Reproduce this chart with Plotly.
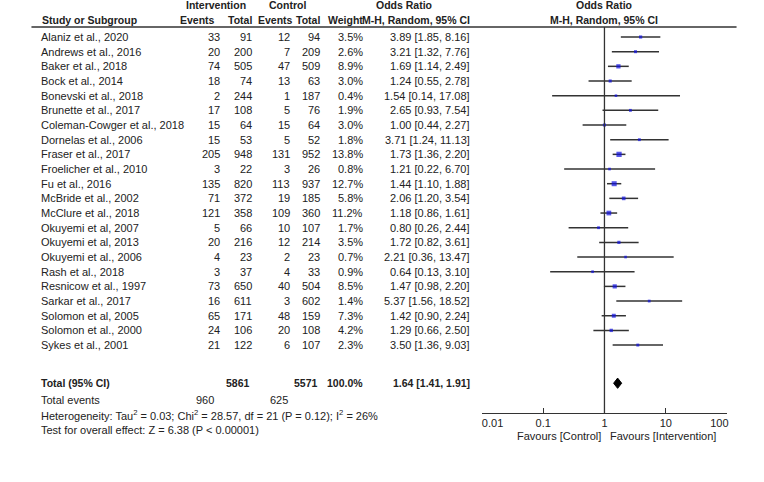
import plotly.graph_objects as go

# study data
studies = ["Alaniz et al., 2020", "Andrews et al., 2016", "Baker et al., 2018", "Bock et al., 2014",
           "Bonevski et al., 2018", "Brunette et al., 2017", "Coleman-Cowger et al., 2018",
           "Dornelas et al., 2006", "Fraser et al., 2017", "Froelicher et al., 2010", "Fu et al., 2016",
           "McBride et al., 2002", "McClure et al., 2018", "Okuyemi et al, 2007", "Okuyemi et al, 2013",
           "Okuyemi et al., 2006", "Rash et al., 2018", "Resnicow et al., 1997", "Sarkar et al., 2017",
           "Solomon et al, 2005", "Solomon et al., 2000", "Sykes et al., 2001"]
int_events = [33, 20, 74, 18, 2, 17, 15, 15, 205, 3, 135, 71, 121, 5, 20, 4, 3, 73, 16, 65, 24, 21]
int_total = [91, 200, 505, 74, 244, 108, 64, 53, 948, 22, 820, 372, 358, 66, 216, 23, 37, 650, 611, 171, 106, 122]
ctl_events = [12, 7, 47, 13, 1, 5, 15, 5, 131, 3, 113, 19, 109, 10, 12, 2, 4, 40, 3, 48, 20, 6]
ctl_total = [94, 209, 509, 63, 187, 76, 64, 52, 952, 26, 937, 185, 360, 107, 214, 23, 33, 504, 602, 159, 108, 107]
weights = [3.5, 2.6, 8.9, 3.0, 0.4, 1.9, 3.0, 1.8, 13.8, 0.8, 12.7, 5.8, 11.2, 1.7, 3.5, 0.7, 0.9, 8.5, 1.4, 7.3, 4.2, 2.3]
odds = [3.89, 3.21, 1.69, 1.24, 1.54, 2.65, 1.00, 3.71, 1.73, 1.21, 1.44, 2.06, 1.18, 0.80, 1.72, 2.21, 0.64, 1.47, 5.37, 1.42, 1.29, 3.50]
ci_low = [1.85, 1.32, 1.14, 0.55, 0.14, 0.93, 0.44, 1.24, 1.36, 0.22, 1.10, 1.20, 0.86, 0.26, 0.82, 0.36, 0.13, 0.98, 1.56, 0.90, 0.66, 1.36]
ci_high = [8.16, 7.76, 2.49, 2.78, 17.08, 7.54, 2.27, 11.13, 2.20, 6.70, 1.88, 3.54, 1.61, 2.44, 3.61, 13.47, 3.10, 2.20, 18.52, 2.24, 2.50, 9.03]

# pooled
total_int, total_ctl = 5861, 5571
events_int, events_ctl = 960, 625
total_weight = 100.0
pooled_or, pooled_lo, pooled_hi = 1.64, 1.41, 1.91
tick_vals = [0.01, 0.1, 1, 10, 100]
tick_text = ["0.01", "0.1", "1", "10", "100"]

W, H = 764, 482
ROW = 14.67
FONT = "Liberation Sans, Arial, sans-serif"
TXT = "#222222"
NB = "\u00a0"
rows = list(range(len(studies)))
total_y = 23.6


def px(x):
    return x / W


fig = go.Figure()

# confidence interval lines
lx, ly = [], []
for i in rows:
    lx += [ci_low[i], ci_high[i], None]
    ly += [i, i, None]
fig.add_trace(go.Scatter(x=lx, y=ly, mode="lines", line=dict(color="#333333", width=1.5),
                         hoverinfo="skip", cliponaxis=False))

# study squares
fig.add_trace(go.Scatter(x=odds, y=rows, mode="markers",
                         marker=dict(symbol="square", color="#1010e0",
                                     size=[2.5 + 0.2 * w for w in weights], line=dict(width=0)),
                         cliponaxis=False))

# pooled diamond
dh = 0.35
fig.add_trace(go.Scatter(x=[pooled_lo, pooled_or, pooled_hi, pooled_or, pooled_lo],
                         y=[total_y, total_y - dh, total_y, total_y + dh, total_y],
                         mode="lines", fill="toself", fillcolor="black",
                         line=dict(color="black", width=1), cliponaxis=False))

ann = []


def txt(x, y, s, anchor="right", bold=False, size=11):
    if bold:
        s = "<b>" + s + "</b>"
        size = 10.5
    ann.append(dict(x=px(x), y=y, xref="paper", yref="y", text=s, showarrow=False,
                    xanchor=anchor, yanchor="middle", font=dict(size=size, color=TXT, family=FONT)))


# header
h1, h2 = -2.18, -1.16
txt(205, h1, "Intervention", "center", True)
txt(280, h1, "Control", "center", True)
txt(403, h1, "Odds Ratio", "center", True)
txt(613, h1, "Odds Ratio", "center", True)
txt(20, h2, "Study or Subgroup", "left", True)
txt(206, h2, "Events", bold=True)
txt(245, h2, "Total", bold=True)
txt(288, h2, "Events", bold=True)
txt(317, h2, "Total", bold=True)
txt(362, h2, "Weight", bold=True)
txt(475, h2, "M-H, Random, 95% CI", bold=True)
txt(613, h2, "M-H, Random, 95% CI", "center", True)

for i in rows:
    txt(19, i, studies[i], "left")
    txt(212, i, str(int_events[i]))
    txt(245, i, str(int_total[i]))
    txt(285, i, str(ctl_events[i]))
    txt(317, i, str(ctl_total[i]))
    txt(362, i, f"{weights[i]:.1f}%")
    txt(475, i, f"{odds[i]:.2f} [{ci_low[i]:.2f}, {ci_high[i]:.2f}]")

txt(19, total_y, "Total (95% CI)", "left", True)
txt(243, total_y, str(total_int), bold=True)
txt(315, total_y, str(total_ctl), bold=True)
txt(362, total_y, f"{total_weight:.1f}%", bold=True)
txt(475, total_y, f"{pooled_or:.2f} [{pooled_lo:.2f}, {pooled_hi:.2f}]", bold=True)
txt(19, 24.75, "Total events", "left")
txt(205, 24.75, str(events_int))
txt(283, 24.75, str(events_ctl))
txt(19, 25.77, "Heterogeneity: Tau<sup>2</sup> = 0.03; Chi<sup>2</sup> = 28.57, df = 21 (P = 0.12); I<sup>2</sup> = 26%", "left")
txt(19, 26.8, "Test for overall effect: Z = 6.38 (P < 0.00001)", "left")
txt(612, 27.2, "Favours [Control]")
txt(618, 27.2, "Favours [Intervention]", "left")
fig.update_layout(annotations=ann)

# header rule and null line
fig.add_shape(type="line", xref="paper", yref="y", x0=px(11), x1=px(753), y0=-0.68, y1=-0.68,
              line=dict(color="#333333", width=1.3))
fig.add_shape(type="line", xref="x", yref="y", x0=1, x1=1, y0=-0.68, y1=(413 - 37) / ROW,
              line=dict(color="#333333", width=1.3))

# end labels sit inside the axis, as in the original
labels = list(tick_text)
labels[0] = NB * 7 + labels[0]
labels[-1] = labels[-1] + NB * 5

fig.update_layout(
    width=W, height=H, margin=dict(l=0, r=0, t=0, b=0),
    paper_bgcolor="white", plot_bgcolor="white", showlegend=False,
    xaxis=dict(type="log", range=[-2, 2], domain=[px(485), px(743)], anchor="free",
               position=(H - 413) / H, showline=True, linecolor="#333333", linewidth=1.3,
               ticks="inside", ticklen=5, tickcolor="#333333", tickvals=tick_vals, ticktext=labels,
               showgrid=False, zeroline=False, tickfont=dict(size=11, color=TXT, family=FONT)),
    yaxis=dict(range=[(H - 37) / ROW, -37 / ROW], visible=False, domain=[0, 1]),
)

# drop the default page margin so the figure sits at the window's corner
fig.write_html("out.html", config={"displayModeBar": False},
               post_script="document.body.style.margin='0px';")
